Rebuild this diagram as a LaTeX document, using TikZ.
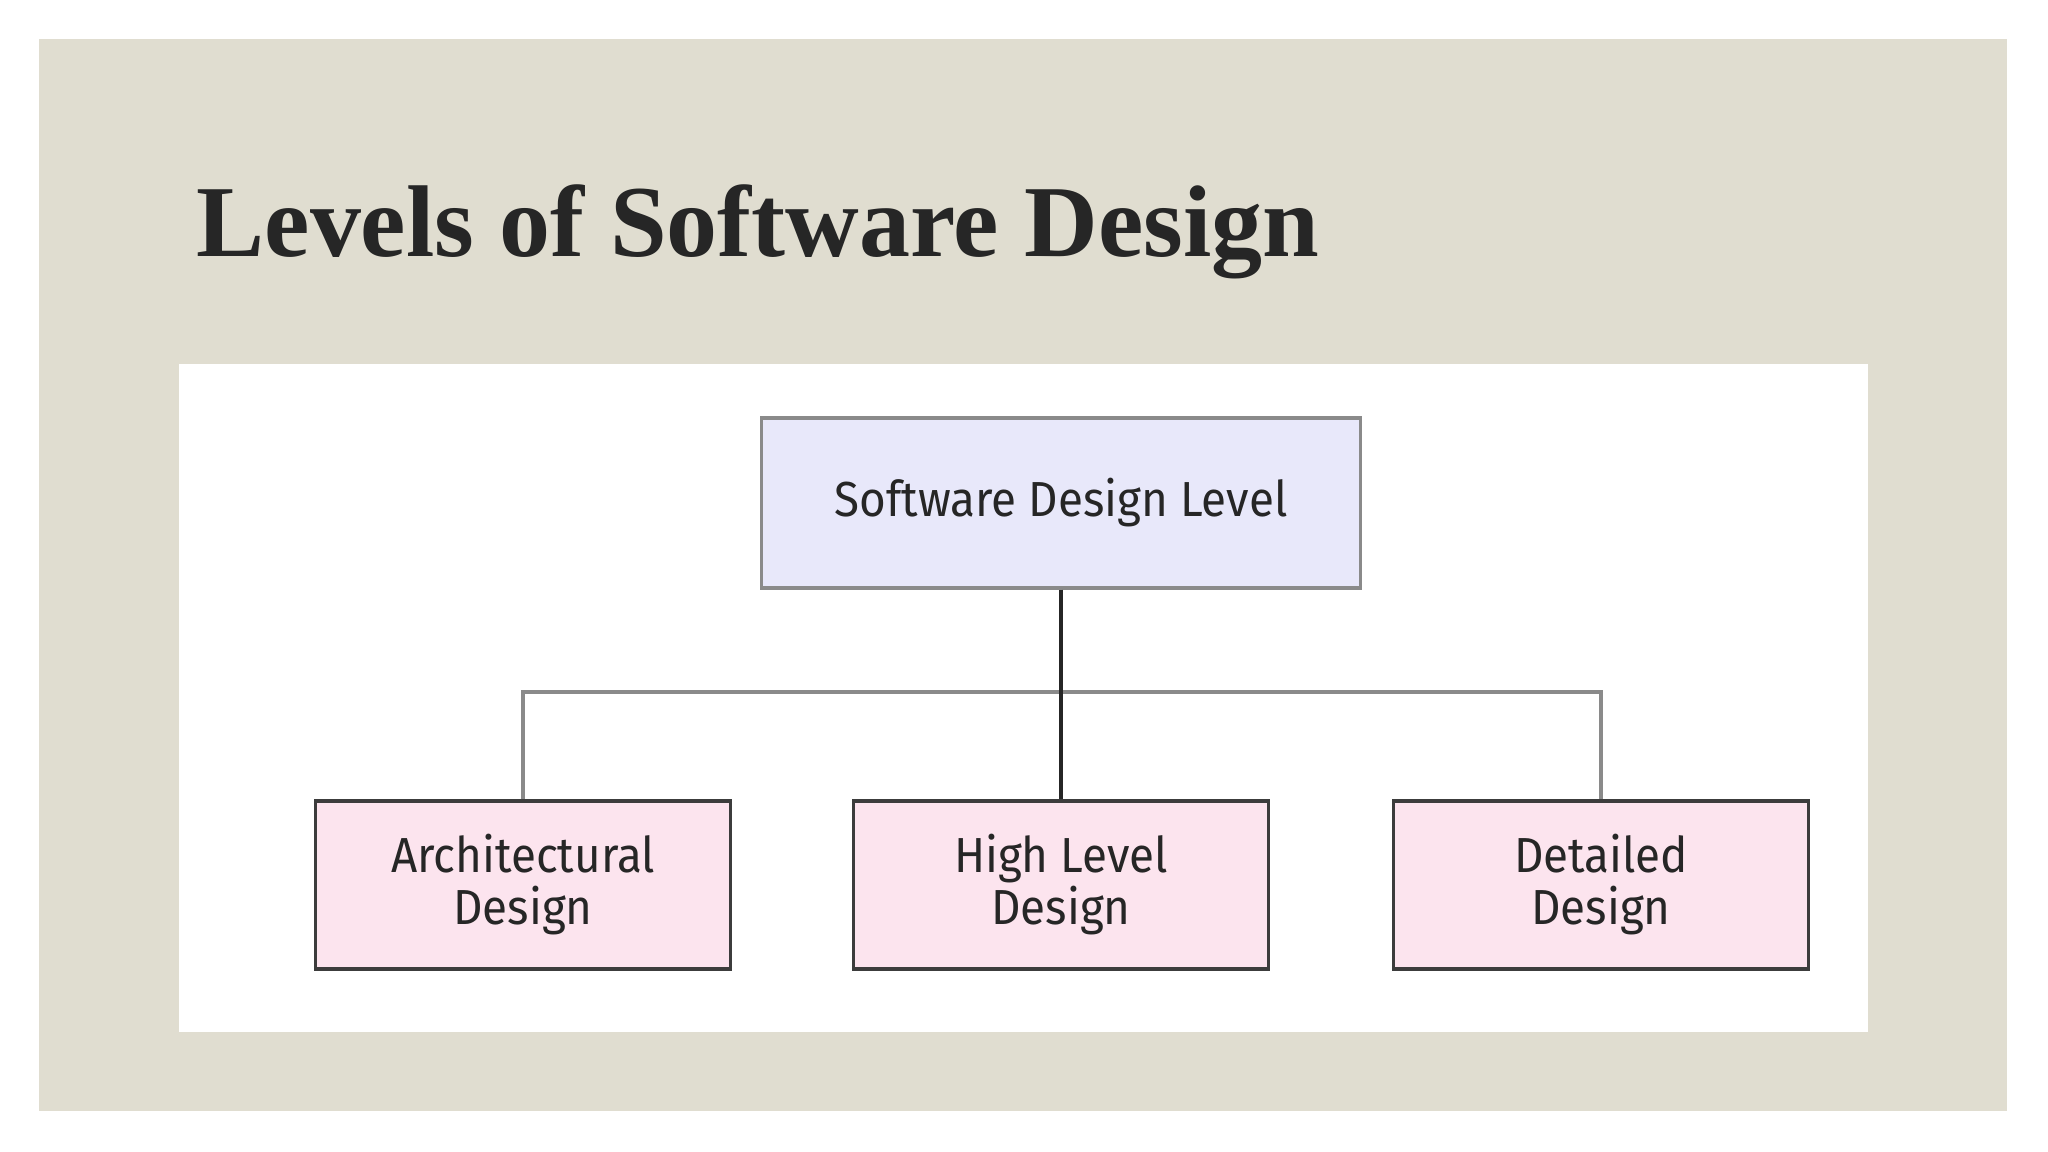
\documentclass[tikz,border=0pt]{standalone}
\usepackage{fontspec}
\setmainfont{Liberation Serif}
\newfontfamily\boxfont[FakeStretch=0.93]{Fira Sans}
\usetikzlibrary{positioning}
\definecolor{slidebg}{HTML}{E0DDD0}
\definecolor{topfill}{HTML}{E8E8FA}
\definecolor{levelfill}{HTML}{FCE4EE}
\definecolor{linegray}{HTML}{8A8A8A}
\definecolor{inkdark}{HTML}{262626}
\tikzset{
    topbox/.style={draw=linegray, line width=0.9pt, fill=topfill, minimum width=5.98cm, minimum height=1.70cm, font=\boxfont\fontsize{14}{14.8}\selectfont, text=inkdark},
    levelbox/.style={draw=inkdark!90, line width=0.9pt, fill=levelfill, minimum width=4.14cm, minimum height=1.68cm, align=center, font=\boxfont\fontsize{14}{14.8}\selectfont, text=inkdark},
    branch/.style={draw=linegray, line width=0.9pt}
}
\begin{document}
\begin{tikzpicture}[x=0.01cm,y=-0.01cm]
\useasboundingbox (0,0) rectangle (2048,1152);
\fill[white] (0,0) rectangle (2048,1152);
\fill[slidebg] (39,39) rectangle (2007,1111);
\fill[white] (179,364) rectangle (1868,1032);
\node[anchor=base west, font=\bfseries\fontsize{29}{30}\selectfont, text=inkdark, inner sep=0pt] (title) at (196,257) {Levels of Software Design};

\node[topbox] (sdl) at (1061,503) {Software Design Level};
\node[levelbox] (arch) at (523,885) {Architectural\\Design};
\node[levelbox] (high) at (1061,885) {High Level\\Design};
\node[levelbox] (det) at (1601,885) {Detailed\\Design};
\coordinate (bus) at (1061,692);

\draw[branch] (arch.north) |- (bus) -| (det.north);
\draw[inkdark, line width=0.9pt] (sdl.south) -- (high.north);
\end{tikzpicture}
\end{document}
